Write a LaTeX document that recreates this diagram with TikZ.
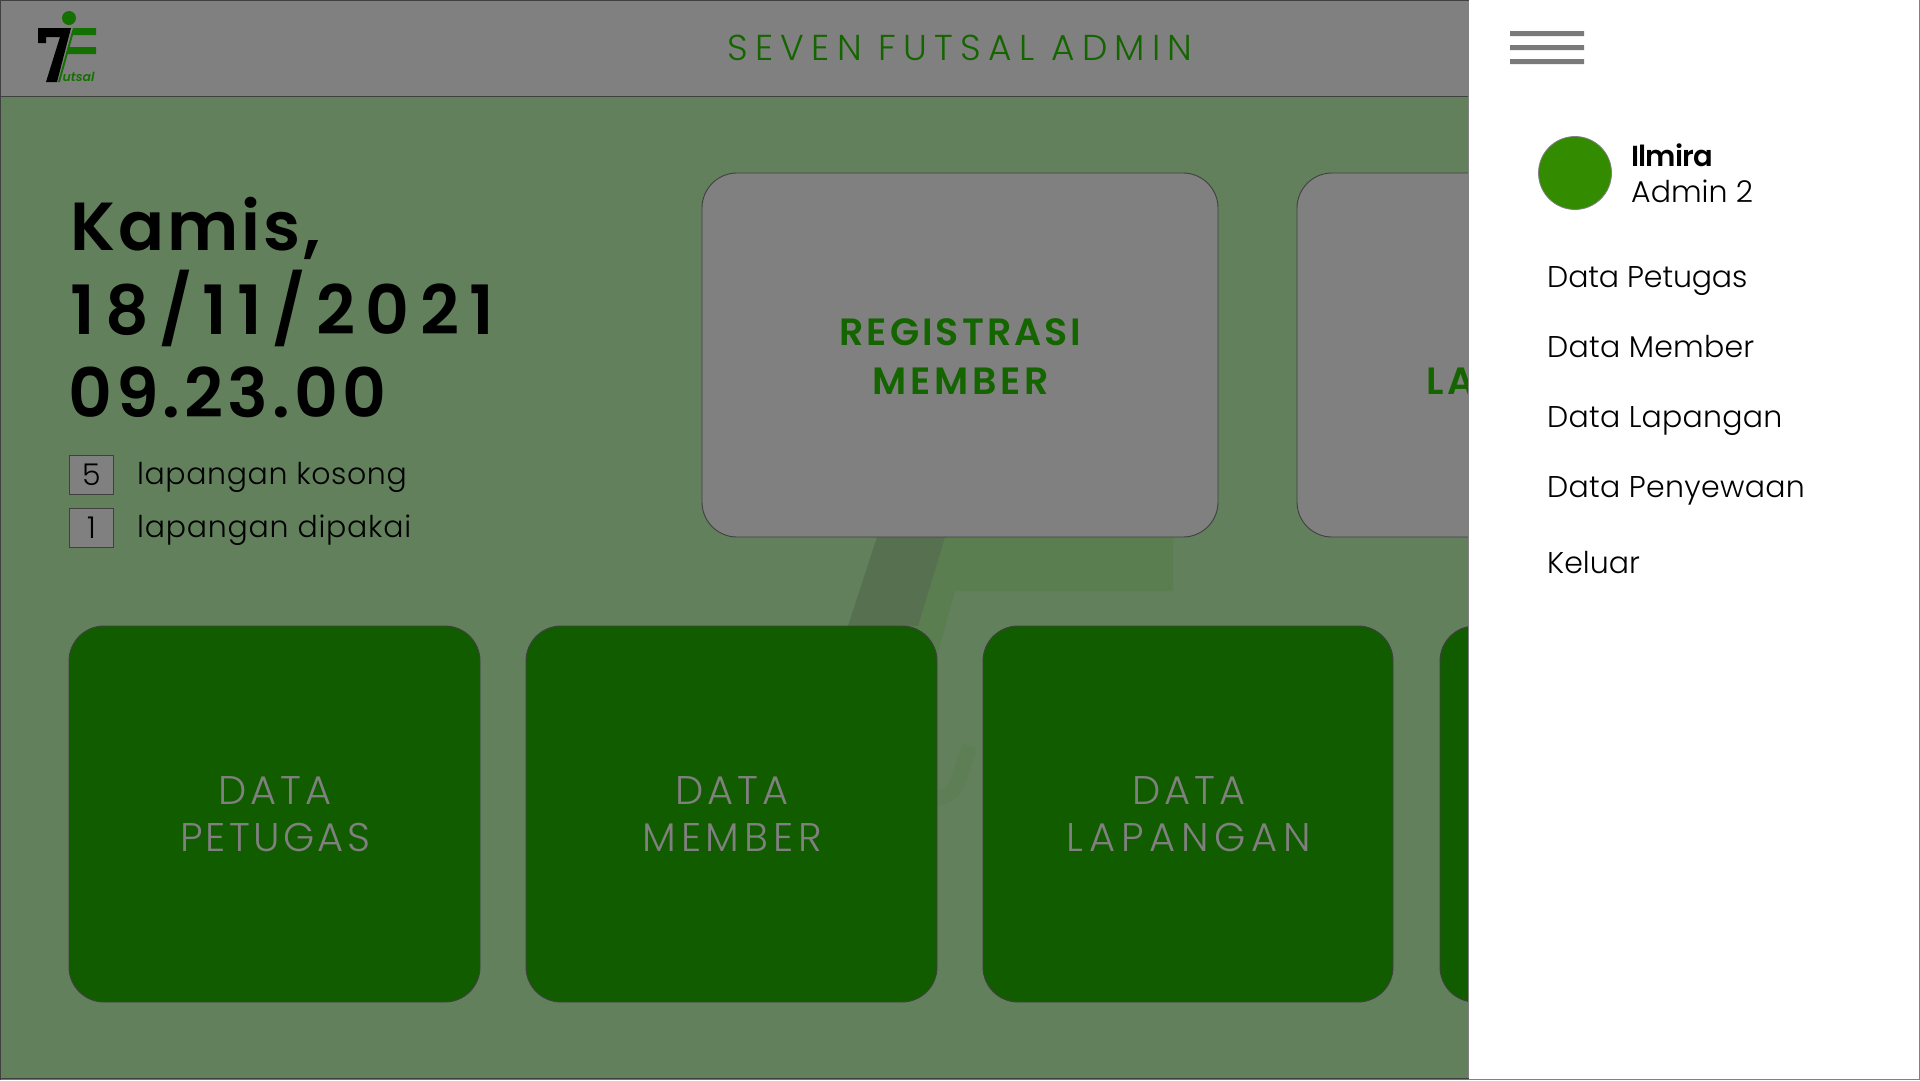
\documentclass[tikz,border=0pt]{standalone}
\usepackage{fontspec}
\setmainfont{Poppins}[UprightFont=* Light,BoldFont=* SemiBold]
\definecolor{bgc}{RGB}{98,128,92}
\definecolor{grayc}{RGB}{128,128,128}
\definecolor{darkg}{RGB}{18,92,0}
\definecolor{lineg}{RGB}{64,64,64}
\definecolor{txtg}{RGB}{20,100,0}
\definecolor{logog}{RGB}{20,112,0}
\definecolor{avatar}{RGB}{51,140,0}
\definecolor{markd}{RGB}{86,112,80}
\definecolor{markg}{RGB}{91,126,80}
\definecolor{marku}{RGB}{94,126,85}
\newcommand{\ls}[1]{\addfontfeature{LetterSpace=#1}}
\tikzset{
 card/.style={draw=lineg,line width=0.9pt,rounded corners=35pt},
 menu/.style={anchor=base west,inner sep=0pt,font=\fontsize{30}{36}\selectfont,text=black},
 datetxt/.style={anchor=west,inner sep=0pt,font=\fontsize{68}{80}\bfseries\selectfont},
 numbox/.style={draw=lineg,fill=grayc,line width=1pt,minimum width=44pt,minimum height=39pt,inner sep=0pt,font=\fontsize{30}{36}\selectfont},
 cardtxt/.style={align=center,inner sep=0pt,text=grayc,font=\fontsize{40}{47}\selectfont},
 regtxt/.style={inner sep=0pt,text=txtg,font=\fontsize{38}{49}\bfseries\selectfont},
}
\begin{document}
\begin{tikzpicture}[x=1pt,y=-1pt]
\useasboundingbox (0,0) rectangle (1920,1080);
\fill[bgc] (0,0) rectangle (1920,1080);
% watermark
\fill[markg] (895,510) -- (1173,510) -- (1173,591) -- (955,591) -- (925,700) -- (860,700) -- cycle;
\fill[markd] (877,537) -- (945,537) -- (918,626) -- (848,626) -- cycle;
\draw[marku,line width=15pt] (969.5,746) -- (958,782) .. controls (953,795) and (942,799) .. (925,799);
% header
\fill[grayc] (0,0) rectangle (1469,96);
\draw[lineg,line width=1pt] (0,96) -- (1469,96);
% logo
\fill[black] (38,28) -- (71,28) -- (57,82) -- (46,82) -- (60,37) -- (46,37) -- (46,43) -- (38,43) -- cycle;
\fill[logog] (73,28) -- (96,28) -- (96,35) -- (71,35) -- cycle (68,47) -- (96,47) -- (96,54) -- (66,54) -- cycle;
\fill[logog] (71,35) -- (73,35) -- (60,82) -- (58,82) -- cycle;
\fill[logog] (69,18) circle (7);
\node[anchor=base west,inner sep=0pt,text=logog,font=\fontsize{12.5}{12}\selectfont\bfseries\itshape] (logotext) at (62.5,81.5) {utsal};
\node[inner sep=0pt,text=txtg,font=\fontsize{36}{40}\selectfont\ls{20}] (title) at (960,48) {SEVEN FUTSAL ADMIN};
% date
\node[datetxt] (d1) at (70,228) {\ls{4.5}Kamis,};
\node[datetxt] (d2) at (70,308) {\ls{15.3}18/11/2021};
\node[datetxt] (d3) at (68,392) {\ls{6}09.23.00};
\node[numbox] (n5) at (91.5,475) {5};
\node[numbox] (n1) at (91.5,528) {1};
\node[anchor=west,inner sep=0pt,font=\fontsize{30}{36}\selectfont\ls{2}] (t5) at (137,477.5) {lapangan kosong};
\node[anchor=west,inner sep=0pt,font=\fontsize{30}{36}\selectfont\ls{2.5}] (t1) at (137,530.5) {lapangan dipakai};
% cards
\draw[card,fill=grayc] (702,173) rectangle (1218,537);
\draw[card,fill=grayc] (1297,173) rectangle (1600,537);
\node[regtxt,align=center] (reg) at (960.5,357) {\ls{8}REGISTRASI\\\ls{10}MEMBER};
\node[regtxt,anchor=west] (lap) at (1426,381) {\ls{10}LAPANGAN};
\draw[card,fill=darkg] (69,626) rectangle (480,1002);
\draw[card,fill=darkg] (526,626) rectangle (937,1002);
\draw[card,fill=darkg] (983,626) rectangle (1393,1002);
\draw[card,fill=darkg] (1440,626) rectangle (1700,1002);
\node[cardtxt] (c1) at (275,814) {\ls{10}DATA\\\ls{8.25}PETUGAS};
\node[cardtxt] (c2) at (732,814) {\ls{10}DATA\\\ls{12}MEMBER};
\node[cardtxt] (c3) at (1189,814) {\ls{10}DATA\\\ls{14.6}LAPANGAN};
% panel
\fill[white] (1469,0) rectangle (1920,1080);
\draw[grayc,line width=1.2pt] (1919.4,0) -- (1919.4,1080);
\draw[grayc,line width=1pt] (1468.5,96) -- (1468.5,1080);
\draw[lineg,line width=1pt] (0,0.5) -- (1469,0.5) (0.5,0) -- (0.5,1080) (0,1078) -- (1469,1078);
\draw[grayc,line width=1pt] (1469,1079) -- (1920,1079);
\fill[grayc!95!black] (1510,31) rectangle (1584,36) (1510,45) rectangle (1584,50) (1510,59) rectangle (1584,64);
\node[circle,fill=avatar,draw=grayc,line width=0.8pt,minimum size=73pt,inner sep=0pt] (av) at (1575,173) {};
\node[menu,font=\fontsize{29}{36}\bfseries\selectfont\ls{-3}] (nm) at (1631,166) {Ilmira};
\node[menu] (ad) at (1631,202) {Admin 2};
\node[menu,font=\fontsize{30}{36}\selectfont\ls{-0.5}] (m1) at (1547,287) {Data Petugas};
\node[menu,font=\fontsize{30}{36}\selectfont\ls{0.8}] (m2) at (1547,357) {Data Member};
\node[menu,font=\fontsize{30}{36}\selectfont\ls{0.8}] (m3) at (1547,427) {Data Lapangan};
\node[menu,font=\fontsize{30}{36}\selectfont\ls{1}] (m4) at (1547,497) {Data Penyewaan};
\node[menu] (m5) at (1547,573) {Keluar};
\end{tikzpicture}
\end{document}
